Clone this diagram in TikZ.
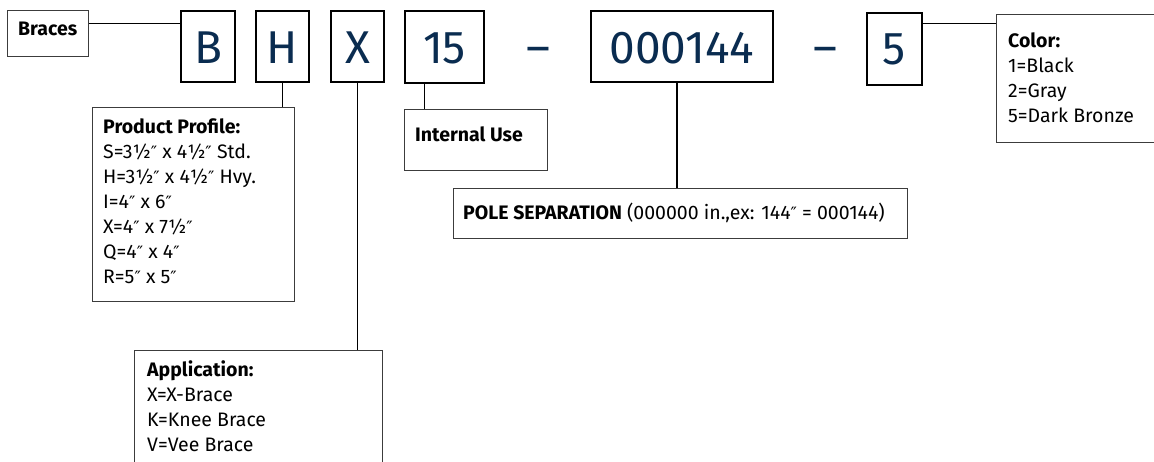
\documentclass[tikz,border=0pt]{standalone}
\usepackage{fontspec}
\setmainfont{Fira Sans}
\newfontfamily\primefont{DejaVu Sans}
\newcommand{\inch}{{\primefont\fontsize{17}{25}\selectfont ″}}
\definecolor{navy}{RGB}{10,44,80}
\definecolor{boxgray}{RGB}{60,60,60}
\begin{document}
\begin{tikzpicture}[x=1pt,y=-1pt,
  codebox/.style={draw=black,line width=2.4pt,inner sep=0pt,text=navy,
    font=\fontsize{46}{50}\selectfont},
  lbox/.style={draw=boxgray,line width=1.2pt,inner sep=0pt,anchor=north west},
  ltext/.style={inner sep=0pt,anchor=north west,align=left,
    font=\fontsize{19.5}{25}\selectfont},
  conn/.style={draw=black,line width=1.2pt},
  dashsym/.style={inner sep=0pt,text=navy,font=\fontsize{46}{50}\selectfont}]
\clip (0,0) rectangle (1154,461);
\fill[white] (0,0) rectangle (1154,461);
% code boxes
\node[codebox,minimum width=54pt,minimum height=71pt] (B) at (208,46.5) {};
\node[codebox,minimum width=53pt,minimum height=71pt] (H) at (282.5,46.5) {};
\node[codebox,minimum width=53pt,minimum height=71pt] (X) at (357.5,46.5) {};
\node[codebox,minimum width=79pt,minimum height=72pt] (F) at (444.5,47) {};
\node[codebox,minimum width=182pt,minimum height=71pt] (P) at (682,46.5) {};
\node[codebox,minimum width=55pt,minimum height=72pt] (C) at (894.5,49) {};
\node[codebox,draw=none,anchor=base] (Bt) at (208,63) {B};
\node[codebox,draw=none,anchor=base] (Ht) at (282.5,63) {H};
\node[codebox,draw=none,anchor=base] (Xt) at (357.5,63) {X};
\node[codebox,draw=none,anchor=base] (Ft) at (444.5,63) {15};
\node[codebox,draw=none,anchor=base] (Pt) at (682,63) {000144};
\node[codebox,draw=none,anchor=base] (Ct) at (894.5,64) {5};
\node[dashsym,anchor=base] (d1) at (538,63) {–};
\node[dashsym,anchor=base] (d2) at (825,63) {–};
% label boxes
\node[lbox,minimum width=81pt,minimum height=46pt] (br) at (7,10) {};
\node[ltext,anchor=base west] at (18,35) {\bfseries Braces};
\node[lbox,minimum width=202pt,minimum height=194pt] (pp) at (92,107) {};
\node[ltext] at (103,118) {\bfseries Product Profile:\\
S=3½\inch{} x 4½\inch{} Std.\\
H=3½\inch{} x 4½\inch{} Hvy.\\
I=4\inch{} x 6\inch\\
X=4\inch{} x 7½\inch\\
Q=4\inch{} x 4\inch\\
R=5\inch{} x 5\inch};
\node[lbox,minimum width=143pt,minimum height=61pt] (iu) at (403.5,109) {};
\node[ltext,anchor=base west] at (415,141) {\bfseries Internal Use};
\node[lbox,minimum width=454pt,minimum height=50pt] (ps) at (453,188) {};
\node[ltext,anchor=base west] at (463,219) {\textbf{POLE SEPARATION} (000000 in.,ex: 144\inch{} = 000144)};
\node[lbox,minimum width=248pt,minimum height=130pt] (ap) at (134,350) {};
\node[ltext] at (147,360) {\bfseries Application:\\
X=X-Brace\\
K=Knee Brace\\
V=Vee Brace};
\node[lbox,minimum width=170pt,minimum height=128pt] (co) at (996,14) {};
\node[ltext] at (1008,32) {\bfseries Color:\\
1=Black\\
2=Gray\\
5=Dark Bronze};
% connectors
\draw[conn] ([yshift=-14pt]B.north west) -- ([yshift=-14pt]B.north west -| br.east);
\draw[conn] (H.south) -- (H.south |- pp.north);
\draw[conn] (X.south) -- (X.south |- ap.north);
\draw[conn] ([xshift=20.5pt]F.south west) -- ([xshift=20.5pt]F.south west |- iu.north);
\draw[conn] ([xshift=-5pt]P.south) -- ([xshift=-5pt]P.south |- ps.north);
\draw[conn] ([yshift=-12pt]C.north east) -- ([yshift=-12pt]C.north east -| co.west);
\end{tikzpicture}
\end{document}
